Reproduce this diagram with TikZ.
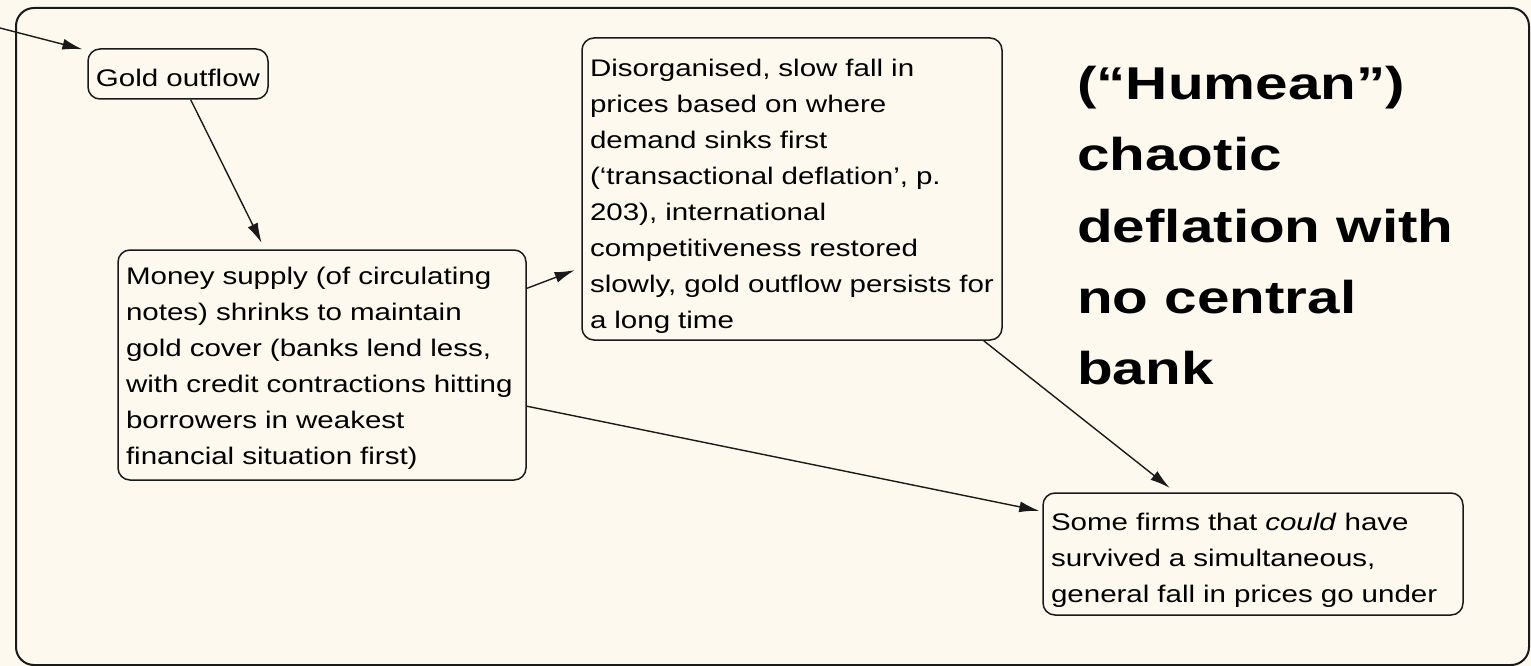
\documentclass[tikz,border=0pt]{standalone}
\usepackage{fontspec}
\setmainfont{Liberation Sans}
\newfontfamily\bodyf{Liberation Sans}[FakeStretch=1.23]
\newfontfamily\titlef{Liberation Sans}[FakeStretch=1.27]
\usetikzlibrary{arrows.meta}
\definecolor{paper}{HTML}{FDF9EE}
\definecolor{ink}{HTML}{1A1A1A}
\newcommand{\topgap}[1]{\rule{0pt}{#1}}
\begin{document}
\begin{tikzpicture}[x=1pt,y=-1pt,
  box/.style={draw=ink, line width=1.5pt, rounded corners=12pt, fill=paper,
    inner xsep=8pt, inner ysep=0pt, align=left,
    font=\bodyf\fontsize{24}{36}\selectfont},
  conn/.style={draw=ink, line width=1.4pt, -{Latex[length=20pt,width=11pt]}, shorten >=7pt},
]
\fill[paper] (0,0) rectangle (1531,666);
\useasboundingbox (0,0) rectangle (1531,666);
\draw[ink, line width=2pt, rounded corners=18pt] (16,8) rectangle (1529,665);

\coordinate (src) at (0,28);

\node[box, align=center, inner xsep=0pt, minimum width=180pt, minimum height=50pt,
  text height=30pt, text depth=4pt] (gold) at (178,74) {Gold outflow};

\node[box, text width=392pt, minimum height=230pt] (money) at (322,365)
 {\topgap{23.5pt}Money supply (of circulating\\notes) shrinks to maintain\\gold cover (banks lend less,\\with credit contractions hitting\\borrowers in weakest\\financial situation first)};

\node[box, text width=404pt, minimum height=302pt] (disorg) at (792,189)
 {\topgap{31.5pt}Disorganised, slow fall in\\prices based on where\\demand sinks first\\(‘transactional deflation’, p.\\203), international\\competitiveness restored\\slowly, gold outflow persists for\\a long time};

\node[box, text width=404pt, minimum height=122pt] (firms) at (1253,554)
 {\topgap{29.5pt}Some firms that \textit{could} have\\survived a simultaneous,\\general fall in prices go under};

\node[anchor=north west, inner sep=0pt, align=left,
  font=\titlef\bfseries\fontsize{46}{71.25}\selectfont] (title) at (1077,66)
 {(“Humean”)\\chaotic\\deflation with\\no central\\bank};

\draw[conn, shorten >=5pt] (src) -- (gold);
\draw[conn] (gold) -- (money);
\draw[conn] (money) -- (disorg);
\draw[conn, shorten >=3pt] (money) -- (firms);
\draw[conn] (disorg) -- (firms);
\end{tikzpicture}
\end{document}
